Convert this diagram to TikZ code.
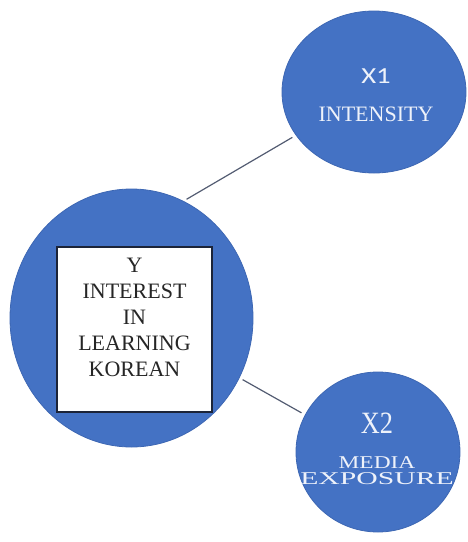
\documentclass[tikz,border=0pt]{standalone}
\usepackage{fontspec}
\setmainfont{Liberation Serif}
\newfontfamily\calibrifont{Carlito}
\usetikzlibrary{shapes.geometric}

\definecolor{varblue}{HTML}{4472C4}
\definecolor{varedge}{HTML}{3D67B3}
\definecolor{vartext}{HTML}{EEF2FA}
\definecolor{boxedge}{HTML}{1C2438}
\definecolor{linkgray}{HTML}{535C72}

\begin{document}
\begin{tikzpicture}[x=1pt,y=-1pt,semithick]
  \tikzstyle{varcircle}=[ellipse,fill=varblue,draw=varedge,line width=0.8pt,inner sep=0pt]
  \tikzstyle{vartitle}=[inner sep=0pt,text=vartext,align=center]
  \tikzstyle{link}=[draw=linkgray,line width=1.2pt,shorten <=3.5pt,shorten >=4pt]

  \useasboundingbox (0,0) rectangle (467,542);

  % dependent variable with its boxed label
  \node[varcircle,minimum width=243pt,minimum height=258pt] (y) at (131.5,318) {};
  \node[rectangle,fill=white,draw=boxedge,line width=1.2pt,
        minimum width=155pt,minimum height=165pt] (ybox) at (134.5,329.5) {};
  \node[anchor=north,inner sep=0pt,align=center,text=black!85,
        font=\fontsize{22}{26}\selectfont] (ytext) at ([yshift=-11pt]ybox.north)
        {Y\\INTEREST\\IN\\LEARNING\\KOREAN};

  % independent variables
  \node[varcircle,minimum width=184pt,minimum height=162pt] (x1) at (374,92) {};
  \node[vartitle,font=\fontsize{22}{26}\selectfont] (x1text) at (376,95)
        {{\calibrifont\fontsize{23}{26}\selectfont\scalebox{1.25}[1]{X1}}\\[11.5pt]INTENSITY};

  \node[varcircle,minimum width=164pt,minimum height=160pt] (x2) at (378,452) {};
  \node[vartitle,font=\fontsize{18}{16.5}\selectfont] (x2text) at (377,449)
        {{\fontsize{31}{26}\selectfont\scalebox{0.85}[1]{X2}}\\[18pt]
         \scalebox{1.3}[1]{MEDIA}\\\scalebox{1.65}[1]{EXPOSURE}};

  \path (y.66)  edge[link] (x1.209)
        (y.331) edge[link] (x2.153);
\end{tikzpicture}
\end{document}
